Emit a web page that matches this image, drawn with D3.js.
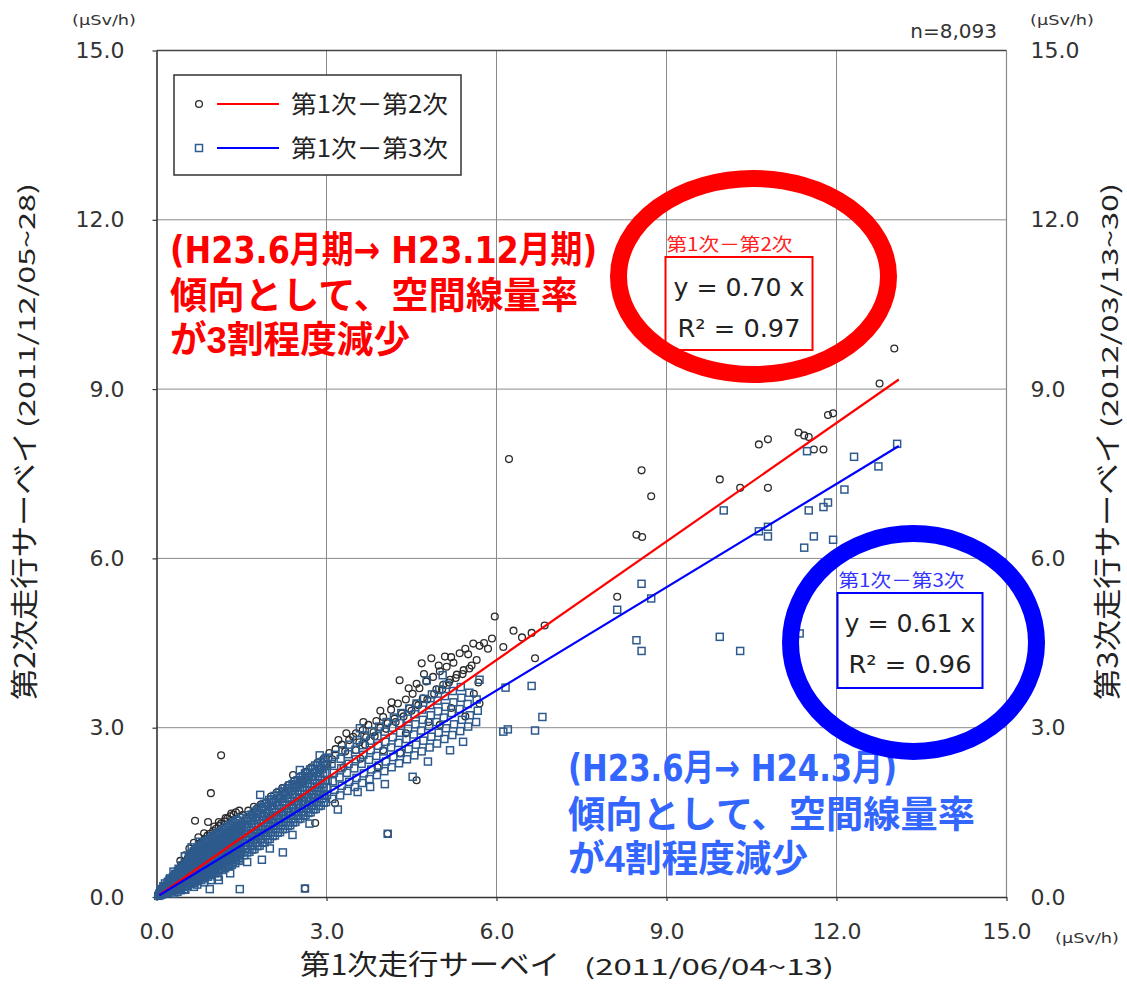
<!DOCTYPE html>
<html>
<head>
<meta charset="utf-8">
<script src="https://cdn.jsdelivr.net/npm/d3@7"></script>
<style>
  body { margin: 0; background: #fff; }
  svg { display: block; }
</style>
</head>
<body>
<svg id="chart" width="1127" height="984"></svg>
<script>
// Axis ticks (µSv/h)
const tickValues = [0, 3, 6, 9, 12, 15];
const tickLabels = ["0.0", "3.0", "6.0", "9.0", "12.0", "15.0"];

// Series names, regression slopes and R² values
const seriesNames = ["第1次－第2次", "第1次－第3次"];
const slopes = [0.70, 0.61];
const rSquared = [0.97, 0.96];
const sampleCount = "n=8,093";
const fitMaxX = 13.1;

// 1st survey (x) vs 2nd survey (y), plotted as circles
const survey2 = [
  [0.05,0.04],[0.1,0.13],[0.15,0.2],[0.19,0.25],[0.25,0.31],[0.3,0.38],[0.34,0.42],[0.4,0.5],
  [0.45,0.56],[0.49,0.61],[0.55,0.68],[0.6,0.74],[0.64,0.8],[0.7,0.86],[0.75,0.93],[0.79,0.97],
  [0.85,1.03],[0.9,1.09],[0.94,1.12],[1.0,1.17],[1.05,1.21],[1.1,1.26],[1.14,1.3],[1.2,1.34],
  [1.25,1.39],[1.3,1.43],[1.36,1.46],[1.4,1.5],[1.46,1.53],[0.42,0.64],[0.5,0.74],[0.58,0.86],
  [0.66,0.96],[0.74,1.06],[0.84,1.13],[1.02,1.25],[1.1,1.33],[1.22,1.4],[1.32,1.48],
  [0.68,1.35],[0.91,1.33],[0.96,1.84],[1.14,2.51],
  [1.52,1.45],[1.58,1.38],[1.62,1.53],[1.68,1.46],[1.72,1.6],[1.77,1.57],[1.84,1.64],[1.88,1.58],
  [1.94,1.68],[1.97,1.62],[2.02,1.78],[2.07,1.7],[2.12,1.85],[2.17,1.76],[2.22,1.93],[2.27,1.84],
  [2.32,1.98],[2.41,2.16],[2.43,2.06],[2.48,1.97],[2.53,2.13],[2.58,2.04],[2.63,2.22],[2.68,2.12],
  [2.73,2.3],[2.78,2.2],[2.84,2.38],[2.9,2.27],[2.95,2.45],[3.0,2.36],
  [3.05,2.55],[3.1,2.44],[3.16,2.62],[3.21,2.78],[3.27,2.7],[3.33,2.58],[3.4,2.78],[3.47,2.84],
  [3.52,2.9],[3.58,2.74],[3.64,2.96],[3.7,2.83],[3.74,3.05],[3.83,2.92],[3.88,3.12],[3.95,3.0],
  [4.0,3.19],[4.08,3.08],[4.14,3.32],[4.2,3.16],[4.26,3.43],[4.29,3.84],[4.33,3.25],[4.4,3.5],
  [4.46,3.34],[4.52,3.6],[4.58,3.42],[4.59,3.78],[4.64,3.7],[4.68,4.14],[4.7,3.52],[4.76,3.82],
  [4.85,4.23],[4.88,3.9],[4.94,3.68],[5.0,4.0],[5.06,3.76],[5.09,4.26],[5.12,4.08],[5.18,3.85],
  [5.24,4.15],[5.3,3.94],[5.35,4.32],[5.42,4.02],[5.5,4.3],[5.56,4.1],[5.59,4.49],[5.68,3.8],
  [5.7,3.43],[5.78,4.5],[5.85,4.4],[5.92,4.58],[6.12,4.43],[6.3,4.72],[6.45,4.6],[6.62,4.68],
  [6.68,4.23],[6.85,4.81],[5.97,4.97],
  [3.52,2.6],[3.68,2.7],[3.85,2.85],[4.05,2.98],[4.22,3.1],[4.36,3.2],[4.5,3.3],[4.62,3.4],
  [4.78,3.5],[4.9,3.6],[5.04,3.68],[5.16,3.8],[5.28,3.88],[5.4,3.95],[5.52,4.05],[5.65,4.2],
  [4.15,3.45],[4.45,3.7],[4.72,3.95],[4.98,4.1],[5.2,4.25],[5.45,4.4],[5.7,4.45],[3.95,3.3],
  [3.65,3.1],[3.35,2.9],
  [3.3,2.3],[3.6,2.45],[4.0,2.6],[4.4,2.9],[4.8,3.1],[5.2,3.35],[5.6,3.6],[2.5,1.75],[2.0,1.4],
  [3.9,2.3],[4.3,2.55],[5.0,3.05],[5.45,3.2],[4.59,2.07],[3.15,1.66],[2.8,1.31],[2.62,0.15],[4.08,1.12],
  [6.22,7.76],[8.56,7.56],[8.73,7.1],[8.47,6.42],[8.57,6.38],[8.13,5.32],[9.94,7.4],[10.3,7.25],
  [10.63,8.02],[10.79,8.11],[10.79,7.25],[11.33,8.23],[11.43,8.18],[11.51,8.15],[11.6,7.93],
  [11.77,7.93],[11.85,8.54],[11.94,8.57],[12.76,9.1],[13.02,9.72]
];

// 1st survey (x) vs 3rd survey (y), plotted as squares
const survey3 = [
  [0.03,0.02],[0.05,0.06],[0.06,0.03],[0.08,0.09],[0.08,0.04],[0.07,0.11],
  [0.1,0.05],[0.11,0.12],[0.12,0.08],[0.09,0.14],[0.13,0.17],[0.13,0.07],[0.14,0.13],[0.12,0.19],
  [0.15,0.06],[0.17,0.1],[0.16,0.15],[0.18,0.2],[0.15,0.24],[0.19,0.08],[0.2,0.13],[0.19,0.18],[0.21,0.24],
  [0.21,0.08],[0.23,0.13],[0.22,0.18],[0.24,0.23],[0.2,0.27],[0.23,0.31],
  [0.25,0.11],[0.26,0.16],[0.25,0.21],[0.27,0.27],[0.24,0.33],
  [0.27,0.1],[0.29,0.15],[0.28,0.21],[0.3,0.26],[0.26,0.3],[0.29,0.35],[0.31,0.06],
  [0.31,0.12],[0.32,0.18],[0.31,0.24],[0.33,0.29],[0.3,0.36],[0.33,0.41],
  [0.33,0.13],[0.35,0.18],[0.34,0.24],[0.36,0.3],[0.32,0.35],[0.35,0.4],[0.37,0.09],
  [0.37,0.14],[0.38,0.21],[0.37,0.27],[0.39,0.33],[0.36,0.4],[0.38,0.46],
  [0.39,0.15],[0.41,0.21],[0.4,0.27],[0.42,0.33],[0.38,0.39],[0.41,0.45],[0.43,0.12],[0.39,0.5],
  [0.43,0.16],[0.44,0.24],[0.43,0.3],[0.45,0.36],[0.42,0.47],[0.44,0.52],
  [0.45,0.18],[0.47,0.24],[0.46,0.3],[0.48,0.37],[0.44,0.43],[0.47,0.5],[0.49,0.14],[0.45,0.56],
  [0.49,0.18],[0.5,0.26],[0.49,0.33],[0.51,0.4],[0.48,0.46],[0.5,0.53],[0.52,0.59],
  [0.51,0.2],[0.53,0.27],[0.52,0.34],[0.54,0.41],[0.5,0.47],[0.53,0.54],[0.55,0.61],[0.51,0.13],
  [0.55,0.2],[0.56,0.29],[0.55,0.36],[0.57,0.43],[0.54,0.5],[0.56,0.57],[0.58,0.64],
  [0.57,0.23],[0.59,0.3],[0.58,0.37],[0.6,0.44],[0.56,0.51],[0.59,0.58],[0.61,0.66],[0.57,0.72],
  [0.61,0.23],[0.62,0.31],[0.61,0.39],[0.63,0.46],[0.6,0.54],[0.62,0.61],[0.64,0.69],[0.6,0.75],
  [0.63,0.26],[0.65,0.33],[0.64,0.41],[0.66,0.48],[0.62,0.55],[0.65,0.63],[0.67,0.7],[0.63,0.78],[0.66,0.18],
  [0.67,0.25],[0.68,0.34],[0.67,0.42],[0.69,0.5],[0.66,0.58],[0.68,0.66],[0.7,0.74],[0.66,0.81],
  [0.69,0.29],[0.71,0.37],[0.7,0.44],[0.72,0.52],[0.68,0.6],[0.71,0.67],[0.73,0.75],[0.69,0.83],[0.72,0.22],
  [0.73,0.28],[0.74,0.37],[0.73,0.45],[0.75,0.54],[0.72,0.62],[0.74,0.7],[0.76,0.79],[0.72,0.86],
  [0.75,0.32],[0.77,0.4],[0.76,0.48],[0.78,0.56],[0.74,0.64],[0.77,0.72],[0.79,0.8],[0.75,0.88],
  [0.79,0.3],[0.8,0.4],[0.79,0.48],[0.81,0.57],[0.78,0.66],[0.8,0.74],[0.82,0.83],[0.78,0.91],
  [0.81,0.35],[0.83,0.43],[0.82,0.51],[0.84,0.6],[0.8,0.68],[0.83,0.76],[0.85,0.85],[0.81,0.93],[0.84,0.26],
  [0.85,0.33],[0.86,0.42],[0.85,0.51],[0.87,0.6],[0.84,0.69],[0.86,0.78],[0.88,0.87],[0.84,0.96],
  [0.87,0.38],[0.89,0.46],[0.88,0.55],[0.9,0.63],[0.86,0.72],[0.89,0.8],[0.91,0.89],[0.87,0.98],
  [0.91,0.36],[0.92,0.45],[0.91,0.54],[0.93,0.63],[0.9,0.72],[0.92,0.81],[0.94,0.9],[0.9,1.0],
  [0.93,0.41],[0.95,0.49],[0.94,0.58],[0.96,0.67],[0.92,0.76],[0.95,0.84],[0.97,0.93],[0.93,1.02],[0.96,0.3],
  [0.97,0.39],[0.98,0.48],[0.97,0.57],[0.99,0.66],[0.96,0.75],[0.98,0.85],[1.0,0.94],[0.96,1.04],
  [0.99,0.44],[1.01,0.53],[1.0,0.62],[1.02,0.71],[0.98,0.8],[1.01,0.89],[1.03,0.98],[0.99,1.07],
  [1.03,0.42],[1.04,0.51],[1.03,0.6],[1.05,0.7],[1.02,0.79],[1.04,0.88],[1.06,0.98],[1.02,1.08],
  [1.05,0.47],[1.07,0.56],[1.06,0.65],[1.08,0.75],[1.04,0.84],[1.07,0.93],[1.09,1.02],[1.05,1.11],[1.08,0.36],
  [1.09,0.45],[1.1,0.54],[1.09,0.64],[1.11,0.73],[1.08,0.83],[1.1,0.92],[1.12,1.02],[1.08,1.12],
  [1.11,0.5],[1.13,0.6],[1.12,0.69],[1.14,0.78],[1.1,0.88],[1.13,0.97],[1.15,1.06],[1.11,1.15],
  [1.15,0.48],[1.16,0.58],[1.15,0.67],[1.17,0.77],[1.14,0.86],[1.16,0.96],[1.18,1.05],[1.14,1.15],
  [1.17,0.53],[1.19,0.63],[1.18,0.72],[1.2,0.82],[1.16,0.91],[1.19,1.01],[1.21,1.1],[1.17,1.19],
  [1.21,0.51],[1.22,0.61],[1.21,0.71],[1.23,0.8],[1.2,0.9],[1.22,1.0],[1.24,1.09],[1.2,1.19],
  [1.23,0.56],[1.25,0.66],[1.24,0.76],[1.26,0.85],[1.22,0.95],[1.25,1.05],[1.27,1.14],[1.23,1.24],
  [1.27,0.54],[1.28,0.64],[1.27,0.74],[1.29,0.84],[1.26,0.94],[1.28,1.03],[1.3,1.13],[1.26,1.23],
  [1.29,0.59],[1.31,0.69],[1.3,0.79],[1.32,0.89],[1.28,0.99],[1.31,1.08],[1.33,1.18],[1.29,1.28],
  [1.33,0.57],[1.34,0.67],[1.33,0.77],[1.35,0.87],[1.32,0.97],[1.34,1.07],[1.36,1.17],[1.32,1.27],
  [1.35,0.62],[1.37,0.72],[1.36,0.82],[1.38,0.92],[1.34,1.02],[1.37,1.12],[1.39,1.22],[1.35,1.32],
  [1.39,0.6],[1.4,0.7],[1.39,0.8],[1.41,0.91],[1.38,1.01],[1.4,1.11],[1.42,1.21],[1.38,1.31],
  [1.41,0.66],[1.43,0.76],[1.42,0.86],[1.44,0.96],[1.4,1.06],[1.43,1.16],[1.45,1.26],[1.41,1.36],
  [1.45,0.64],[1.46,0.74],[1.45,0.84],[1.47,0.95],[1.44,1.05],[1.46,1.15],[1.48,1.25],[1.44,1.35],
  [1.47,0.69],[1.49,0.79],[1.48,0.9],[1.5,1.0],[1.46,1.1],[1.49,1.2],[1.51,1.3],[1.47,1.4],
  [1.55,0.74],[1.57,0.85],[1.56,0.96],[1.58,1.07],[1.54,1.18],[1.57,1.29],[1.59,1.4],
  [1.6,0.79],[1.61,0.9],[1.6,1.01],[1.62,1.12],[1.59,1.23],[1.61,1.34],[1.63,1.45],
  [1.64,0.8],[1.66,0.91],[1.65,1.02],[1.67,1.13],[1.63,1.24],[1.66,1.35],[1.68,1.46],
  [1.69,0.84],[1.7,0.96],[1.69,1.07],[1.71,1.18],[1.68,1.29],[1.7,1.4],[1.72,1.51],
  [1.73,0.85],[1.75,0.97],[1.74,1.08],[1.76,1.19],[1.72,1.3],[1.75,1.41],[1.77,1.53],
  [1.78,0.9],[1.79,1.02],[1.78,1.13],[1.8,1.24],[1.77,1.36],[1.79,1.47],[1.81,1.58],
  [1.82,0.91],[1.84,1.03],[1.83,1.14],[1.85,1.25],[1.81,1.37],[1.84,1.48],[1.86,1.6],
  [1.87,0.96],[1.88,1.08],[1.87,1.19],[1.89,1.31],[1.86,1.42],[1.88,1.54],[1.9,1.65],
  [1.91,0.97],[1.93,1.09],[1.92,1.2],[1.94,1.32],[1.9,1.43],[1.93,1.55],[1.95,1.67],
  [1.96,1.02],[1.97,1.14],[1.96,1.25],[1.98,1.37],[1.95,1.48],[1.97,1.6],[1.99,1.72],
  [2.0,1.03],[2.02,1.15],[2.01,1.26],[2.03,1.38],[1.99,1.5],[2.02,1.62],[2.04,1.73],
  [2.05,1.08],[2.06,1.2],[2.05,1.32],[2.07,1.43],[2.04,1.55],[2.06,1.67],[2.08,1.79],
  [2.09,1.09],[2.11,1.21],[2.1,1.33],[2.12,1.45],[2.08,1.56],[2.11,1.68],[2.13,1.8],
  [2.14,1.14],[2.15,1.26],[2.14,1.38],[2.16,1.5],[2.13,1.62],[2.15,1.74],[2.17,1.86],
  [2.18,1.15],[2.2,1.27],[2.19,1.39],[2.21,1.51],[2.17,1.63],[2.2,1.75],[2.22,1.87],
  [2.23,1.2],[2.24,1.32],[2.23,1.44],[2.25,1.56],[2.22,1.68],[2.24,1.8],[2.26,1.92],
  [2.27,1.21],[2.29,1.33],[2.28,1.45],[2.3,1.57],[2.26,1.69],[2.29,1.81],[2.31,1.93],
  [2.32,1.26],[2.33,1.38],[2.32,1.5],[2.34,1.62],[2.31,1.74],[2.33,1.86],[2.35,1.98],
  [2.36,1.27],[2.38,1.39],[2.37,1.51],[2.39,1.64],[2.35,1.76],[2.38,1.88],[2.4,2.0],
  [2.41,1.32],[2.42,1.44],[2.41,1.57],[2.43,1.69],[2.4,1.81],[2.42,1.93],[2.44,2.05],
  [2.45,1.33],[2.47,1.45],[2.46,1.58],[2.48,1.7],[2.44,1.82],[2.47,1.95],[2.49,2.07],
  [2.5,1.38],[2.51,1.5],[2.5,1.63],[2.52,1.75],[2.49,1.88],[2.51,2.0],[2.53,2.12],
  [2.54,1.39],[2.56,1.51],[2.55,1.64],[2.57,1.76],[2.53,1.89],[2.56,2.01],[2.58,2.14],
  [2.59,1.44],[2.6,1.56],[2.59,1.69],[2.61,1.82],[2.58,1.94],[2.6,2.07],[2.62,2.19],
  [2.63,1.45],[2.65,1.57],[2.64,1.7],[2.66,1.83],[2.62,1.95],[2.65,2.08],[2.67,2.2],
  [2.68,1.49],[2.69,1.62],[2.68,1.75],[2.7,1.88],[2.67,2.0],[2.69,2.13],[2.71,2.26],
  [2.72,1.5],[2.74,1.63],[2.73,1.76],[2.75,1.89],[2.71,2.02],[2.74,2.14],[2.76,2.27],
  [2.77,1.55],[2.78,1.68],[2.77,1.81],[2.79,1.94],[2.76,2.07],[2.78,2.2],[2.8,2.33],
  [2.81,1.56],[2.83,1.69],[2.82,1.82],[2.84,1.95],[2.8,2.08],[2.83,2.21],[2.85,2.34],
  [2.86,1.61],[2.87,1.74],[2.86,1.87],[2.88,2.0],[2.85,2.13],[2.87,2.26],[2.89,2.39],
  [2.9,1.62],[2.92,1.75],[2.91,1.88],[2.93,2.01],[2.89,2.14],[2.92,2.27],[2.94,2.4],
  [2.95,1.67],[2.96,1.8],[2.95,1.93],[2.97,2.06],[2.94,2.19],[2.96,2.32],[2.98,2.45],
  [2.99,1.68],[3.01,1.81],[3.0,1.94],[3.02,2.07],[2.98,2.2],[3.01,2.33],[3.03,2.47],
  [3.1,1.74],[3.14,1.9],[3.11,2.05],[3.13,2.2],[3.09,2.36],[3.15,2.52],
  [3.24,1.8],[3.27,1.97],[3.23,2.12],[3.26,2.28],[3.25,2.45],[3.28,2.6],
  [3.37,1.88],[3.4,2.04],[3.36,2.2],[3.39,2.36],[3.38,2.53],[3.41,2.7],
  [3.5,1.95],[3.53,2.11],[3.49,2.28],[3.52,2.44],[3.51,2.61],[3.54,2.78],
  [3.63,2.02],[3.66,2.19],[3.62,2.36],[3.65,2.52],[3.64,2.69],[3.67,2.86],
  [3.76,2.09],[3.79,2.26],[3.75,2.43],[3.78,2.6],[3.77,2.77],[3.8,2.94],
  [3.89,2.16],[3.92,2.33],[3.88,2.5],[3.91,2.68],[3.9,2.85],[3.93,3.02],
  [4.02,2.23],[4.05,2.4],[4.01,2.58],[4.04,2.75],[4.03,2.93],[4.06,3.1],
  [4.15,2.3],[4.18,2.48],[4.14,2.65],[4.17,2.83],[4.16,3.0],[4.19,3.18],
  [4.28,2.37],[4.31,2.55],[4.27,2.73],[4.3,2.91],[4.29,3.08],[4.32,3.26],
  [4.42,2.44],[4.45,2.62],[4.41,2.8],[4.44,2.98],[4.43,3.16],[4.46,3.34],
  [4.55,2.51],[4.58,2.7],[4.54,2.88],[4.57,3.06],[4.56,3.24],[4.59,3.43],
  [4.68,2.58],[4.71,2.77],[4.67,2.95],[4.7,3.14],[4.69,3.32],[4.72,3.51],
  [4.82,2.65],[4.85,2.84],[4.81,3.03],[4.84,3.22],[4.83,3.4],[4.86,3.59],
  [4.95,2.72],[4.98,2.91],[4.94,3.1],[4.97,3.29],[4.96,3.48],[4.99,3.67],
  [5.08,2.8],[5.11,2.99],[5.07,3.18],[5.1,3.37],[5.09,3.56],[5.12,3.76],
  [5.22,2.87],[5.25,3.06],[5.21,3.26],[5.24,3.45],[5.23,3.65],
  [5.36,2.94],[5.39,3.14],[5.35,3.33],[5.38,3.53],[5.37,3.72],
  [5.5,3.02],[5.53,3.22],[5.49,3.42],[5.52,3.62],
  [5.64,3.1],[5.67,3.3],[5.65,3.5],[5.7,3.85],
  [0.3,0.45],[0.5,0.72],[0.62,0.88],[0.75,0.98],[1.1,0.3],[1.3,0.42],[1.6,0.62],[2.0,0.86],
  [2.4,1.1],[2.7,1.3],[3.2,1.55],[3.55,1.86],[3.77,1.95],[4.03,2.0],[4.52,2.13],[4.79,2.4],
  [5.18,2.6],[5.41,2.75],[1.83,1.81],[2.53,2.25],[2.88,2.51],[3.59,2.99],[4.77,3.84],[5.05,3.93],
  [0.94,0.14],[1.47,0.14],[2.62,0.15],[1.86,0.66],[2.23,0.79],[4.08,1.12],
  [6.12,2.93],[6.2,2.97],[6.68,2.95],[6.81,3.19],[6.62,3.74],[6.16,3.71],
  [8.13,5.09],[8.56,5.55],[8.73,5.29],[8.47,4.55],[8.56,4.36],[9.94,4.61],[10.3,4.36],[11.35,4.67],
  [10.01,6.85],[10.63,6.48],[10.79,6.56],[10.79,6.39],[11.43,6.19],[11.6,6.39],[11.48,7.9],
  [11.51,6.85],[11.77,6.91],[11.85,6.99],[11.94,6.33],[12.14,7.22],[12.31,7.8],[12.74,7.63],
  [13.07,8.03]
];

// Annotation text
const noteRed = ["(H23.6月期→ H23.12月期)", "傾向として、空間線量率", "が3割程度減少"];
const noteBlue = ["(H23.6月→ H24.3月)", "傾向として、空間線量率", "が4割程度減少"];

const JP = "'Noto Sans CJK JP', 'Noto Sans', sans-serif";
const NOTE = "'Liberation Sans', 'Noto Sans CJK JP', sans-serif";
const NOTE_ARROW = "'DejaVu Sans', 'Noto Sans CJK JP', sans-serif";
const NUM = "'DejaVu Sans', 'Liberation Sans', sans-serif";

const svg = d3.select("#chart");
const x = d3.scaleLinear().domain([0, 15]).range([156.5, 1006.5]);
const y = d3.scaleLinear().domain([0, 15]).range([897, 50.5]);
const fmt = d => tickLabels[tickValues.indexOf(d)];

// Grid
const inner = tickValues.slice(1, -1);
const grid = svg.append("g").attr("stroke", "#8a8a8a").attr("stroke-width", 1);
grid.selectAll("line.gx").data(inner).join("line").attr("class", "gx")
  .attr("x1", d => x(d)).attr("x2", d => x(d)).attr("y1", y(0)).attr("y2", y(15));
grid.selectAll("line.gy").data(inner).join("line").attr("class", "gy")
  .attr("x1", x(0)).attr("x2", x(15)).attr("y1", d => y(d)).attr("y2", d => y(d));
svg.append("line").attr("x1", x(15)).attr("x2", x(15)).attr("y1", y(0)).attr("y2", y(15))
  .attr("stroke", "#8a8a8a").attr("stroke-width", 1.2);
svg.append("line").attr("x1", x(0)).attr("x2", x(15)).attr("y1", y(15)).attr("y2", y(15))
  .attr("stroke", "#444").attr("stroke-width", 1.5);

// Axes
function styleAxis(g) {
  g.select(".domain").attr("stroke", "#333").attr("stroke-width", 1.6);
  g.selectAll(".tick line").attr("stroke", "#333").attr("stroke-width", 1.2);
  g.selectAll(".tick text").attr("fill", "#333").attr("font-family", NUM).attr("font-size", 22);
}
svg.append("g").attr("transform", `translate(${x(0)},0)`)
  .call(d3.axisLeft(y).tickValues(tickValues).tickFormat(fmt).tickSize(4).tickPadding(28).tickSizeOuter(0))
  .call(styleAxis);
svg.append("g").attr("transform", `translate(0,${y(0)})`)
  .call(d3.axisBottom(x).tickValues(tickValues).tickFormat(fmt).tickSize(4).tickPadding(22).tickSizeOuter(0))
  .call(styleAxis);
const axR = svg.append("g").attr("transform", `translate(${x(15)},0)`)
  .call(d3.axisRight(y).tickValues(tickValues).tickFormat(fmt).tickSize(0).tickPadding(24))
  .call(styleAxis);
axR.select(".domain").remove();

// Units and sample count
const unitPos = [[72, 25], [1030, 25], [1055, 943]];
svg.selectAll("text.unit").data(unitPos).join("text").attr("class", "unit")
  .attr("x", d => d[0]).attr("y", d => d[1])
  .attr("font-family", NUM).attr("font-size", 14).attr("fill", "#333")
  .attr("textLength", 64).attr("lengthAdjust", "spacingAndGlyphs")
  .text("(μSv/h)");
svg.append("text").attr("x", 997).attr("y", 38).attr("text-anchor", "end")
  .attr("font-family", NUM).attr("font-size", 20).attr("fill", "#333").text(sampleCount);

// Annotation notes (the first line, with its arrow, uses a face that has a bold arrow)
function note(lines, x0, baselines, lengths, color) {
  svg.append("g").selectAll("text").data(lines).join("text")
    .attr("x", x0).attr("y", (d, i) => baselines[i])
    .attr("font-family", d => d.includes("→") ? NOTE_ARROW : NOTE)
    .attr("font-weight", 700).attr("font-size", 37).attr("fill", color)
    .attr("textLength", (d, i) => lengths[i]).attr("lengthAdjust", "spacingAndGlyphs")
    .text(d => d);
}
note(noteRed, 170, [263, 309, 353], [427, 408, 240], "#ff0000");
note(noteBlue, 568, [781, 828, 872], [329, 407, 240], "#3366ff");

// Scatter: circles (2nd survey), then squares (3rd survey)
const cr = 3.4, sq = 7;
svg.append("g").selectAll("circle").data(survey2).join("circle")
  .attr("cx", d => x(d[0])).attr("cy", d => y(d[1])).attr("r", cr)
  .attr("fill", "none").attr("stroke", "#2b2b2b").attr("stroke-width", 1.3);
svg.append("g").selectAll("rect").data(survey3).join("rect")
  .attr("x", d => x(d[0]) - sq / 2).attr("y", d => y(d[1]) - sq / 2)
  .attr("width", sq).attr("height", sq)
  .attr("fill", "none").attr("stroke", "#2e5b8d").attr("stroke-width", 1.5);

// Regression lines through the origin
const fitColors = ["#ff0000", "#0000ff"];
const line = d3.line().x(d => x(d[0])).y(d => y(d[1]));
slopes.forEach((k, i) => {
  svg.append("path").datum([[0.05, 0.05 * k], [fitMaxX, fitMaxX * k]])
    .attr("d", line).attr("fill", "none").attr("stroke", fitColors[i]).attr("stroke-width", 2.2);
});

// Legend
const lg = svg.append("g");
lg.append("rect").attr("x", 174).attr("y", 75).attr("width", 287).attr("height", 100)
  .attr("fill", "#fff").attr("stroke", "#333").attr("stroke-width", 1.5);
const rows = [104, 148];
lg.append("circle").attr("cx", 199).attr("cy", rows[0]).attr("r", cr)
  .attr("fill", "none").attr("stroke", "#2b2b2b").attr("stroke-width", 1.3);
lg.append("rect").attr("x", 199 - sq / 2).attr("y", rows[1] - sq / 2).attr("width", sq).attr("height", sq)
  .attr("fill", "none").attr("stroke", "#2e5b8d").attr("stroke-width", 1.5);
rows.forEach((ry, i) => {
  lg.append("line").attr("x1", 217).attr("x2", 279).attr("y1", ry).attr("y2", ry)
    .attr("stroke", fitColors[i]).attr("stroke-width", 2.2);
  lg.append("text").attr("x", 291).attr("y", ry + 9)
    .attr("font-family", JP).attr("font-size", 24).attr("fill", "#222")
    .attr("textLength", 157).attr("lengthAdjust", "spacingAndGlyphs")
    .text(seriesNames[i]);
});

// Regression result boxes with circled highlights
const boxes = [
  { cx: 739, top: 257, w: 147, h: 93, color: "#ff0000", label: "#ff2020", ell: [753.5, 276.5, 135, 98] },
  { cx: 910, top: 593, w: 145, h: 95, color: "#0000ff", label: "#3333ff", ell: [913.5, 642.5, 123, 109] }
];
boxes.forEach((b, i) => {
  const g = svg.append("g");
  g.append("rect").attr("x", b.cx - b.w / 2).attr("y", b.top).attr("width", b.w).attr("height", b.h)
    .attr("fill", "#fff").attr("stroke", b.color).attr("stroke-width", 2);
  g.append("text").attr("x", b.cx - b.w / 2 + 1).attr("y", b.top - 6)
    .attr("font-family", JP).attr("font-size", 18).attr("fill", b.label)
    .attr("textLength", 126).attr("lengthAdjust", "spacingAndGlyphs").text(seriesNames[i]);
  g.append("text").attr("x", b.cx).attr("y", b.top + 39).attr("text-anchor", "middle")
    .attr("font-family", NUM).attr("font-size", 25).attr("fill", "#222")
    .attr("textLength", 131).attr("lengthAdjust", "spacingAndGlyphs")
    .text(`y = ${slopes[i].toFixed(2)} x`);
  g.append("text").attr("x", b.cx).attr("y", b.top + 80).attr("text-anchor", "middle")
    .attr("font-family", NUM).attr("font-size", 25).attr("fill", "#222")
    .attr("textLength", 123).attr("lengthAdjust", "spacingAndGlyphs")
    .text(`R² = ${rSquared[i].toFixed(2)}`);
  g.append("ellipse").attr("cx", b.ell[0]).attr("cy", b.ell[1]).attr("rx", b.ell[2]).attr("ry", b.ell[3])
    .attr("fill", "none").attr("stroke", b.color).attr("stroke-width", 17);
});

// Axis titles
const titleX = svg.append("g").attr("font-family", JP).attr("fill", "#222");
titleX.append("text").attr("x", 300).attr("y", 975).attr("font-size", 28)
  .attr("textLength", 260).attr("lengthAdjust", "spacingAndGlyphs").text("第1次走行サーベイ");
titleX.append("text").attr("x", 584).attr("y", 975).attr("font-size", 22)
  .attr("textLength", 250).attr("lengthAdjust", "spacingAndGlyphs").text("(2011/06/04~13)");

function sideTitle(bx, main, dates) {
  const g = svg.append("g").attr("font-family", JP).attr("fill", "#222");
  g.append("text").attr("transform", `translate(${bx},700) rotate(-90)`).attr("font-size", 28)
    .attr("textLength", 268).attr("lengthAdjust", "spacingAndGlyphs").text(main);
  g.append("text").attr("transform", `translate(${bx},428) rotate(-90)`).attr("font-size", 22)
    .attr("textLength", 245).attr("lengthAdjust", "spacingAndGlyphs").text(dates);
}
sideTitle(35, "第2次走行サーベイ", "(2011/12/05~28)");
sideTitle(1118, "第3次走行サーベイ", "(2012/03/13~30)");
</script>
</body>
</html>
